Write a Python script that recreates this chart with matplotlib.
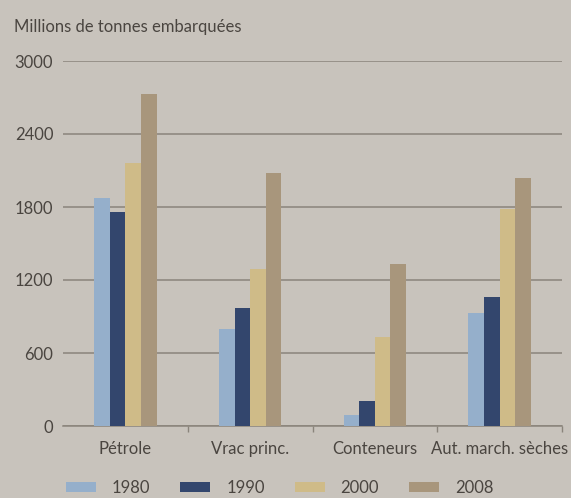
import numpy as np
import matplotlib.pyplot as plt

# Data
categories = ['Pétrole', 'Vrac princ.', 'Conteneurs', 'Aut. march. sèches']
years = ['1980', '1990', '2000', '2008']
v1980 = [1870, 795, 90, 925]
v1990 = [1755, 970, 205, 1060]
v2000 = [2160, 1290, 730, 1785]
v2008 = [2725, 2080, 1330, 2040]
yticks = [0, 600, 1200, 1800, 2400, 3000]

colors = ['#95afcb', '#33466d', '#cfbb88', '#a8967c']
bg = '#c8c3bc'
txt = '#4a4540'
grid = '#8a847b'

plt.rcParams['font.family'] = ['Lato', 'DejaVu Sans']

fig = plt.figure(figsize=(5.71, 4.98), dpi=100, facecolor=bg)
ax = fig.add_axes([63/571, 72/498, 499/571, 365/498], facecolor=bg)

x = np.arange(len(categories))
w = 0.125
series = [v1980, v1990, v2000, v2008]
for i, vals in enumerate(series):
    ax.bar(x + (i - 1.5) * w, vals, width=w, color=colors[i], label=years[i], zorder=3)

ax.set_xlim(-0.5, 3.5)
ax.set_ylim(0, 3000)
ax.set_yticks(yticks)
ax.set_yticklabels([str(t) for t in yticks], fontsize=12, color=txt)
ax.yaxis.grid(True, color=grid, linewidth=1.1, zorder=0)
ax.tick_params(axis='y', length=0, pad=7)

# category labels, tick marks sit between the groups
ax.set_xticks(x)
ax.set_xticklabels(categories, fontsize=12, color=txt)
ax.tick_params(axis='x', length=0, pad=11)
ax.set_xticks(np.arange(4) + 0.5, minor=True)
ax.tick_params(axis='x', which='minor', length=4, color=grid, width=1)

for s in ['top', 'right', 'left']:
    ax.spines[s].set_visible(False)
ax.spines['bottom'].set_color(grid)
ax.spines['bottom'].set_linewidth(1.1)

fig.text(14/571, 1 - 27/498, 'Millions de tonnes embarquées', fontsize=12,
         color=txt, va='center', ha='left')

fig.legend(loc='center', bbox_to_anchor=(0.49, 10/498), ncol=4, frameon=False,
           fontsize=12, labelcolor=txt, handlelength=1.8, handleheight=0.6,
           handletextpad=0.95, columnspacing=1.8)

fig.savefig('out.png', dpi=100, facecolor=bg)
